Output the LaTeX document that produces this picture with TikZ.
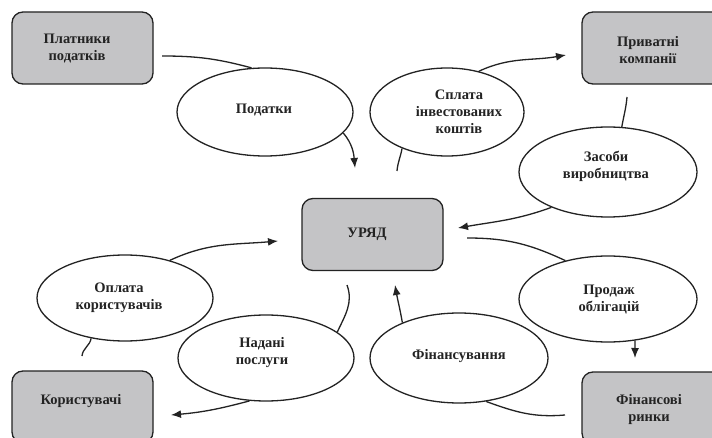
\documentclass[tikz,border=0pt]{standalone}
\usepackage{fontspec}
\setmainfont{Liberation Serif}
\usetikzlibrary{shapes.geometric,arrows.meta}
\definecolor{boxfill}{RGB}{196,196,198}
\definecolor{ink}{RGB}{35,35,35}
\begin{document}
\begin{tikzpicture}[x=1pt,y=-1pt,
  box/.style={draw=ink, line width=1.3pt, fill=boxfill, rounded corners=11pt,
    minimum width=141pt, minimum height=72pt, inner sep=0pt},
  oval/.style={draw=ink, line width=1.3pt, fill=white, ellipse, inner sep=0pt},
  lbl/.style={text=ink, font=\fontsize{14.5}{17}\selectfont\bfseries, align=center, inner sep=0pt},
  conn/.style={draw=ink, line width=1.3pt},
  arr/.style={conn, -{Latex[length=10pt,width=8pt]}}]
\useasboundingbox (0,0) rectangle (712,438);
\clip (0,0) rectangle (712,438);
\fill[white] (0,0) rectangle (712,438);

% boxes
\node[box] (plat) at (82.5,48) {};
\node[box] (priv) at (652.5,48) {};
\node[box] (ur) at (372.5,234.5) {};
\node[box] (kor) at (82.5,407) {};
\node[box] (fin) at (652.5,408) {};

% ellipses
\node[oval, minimum width=176pt, minimum height=88pt] (pod) at (265,112) {};
\node[oval, minimum width=154pt, minimum height=88pt] (spl) at (447,112) {};
\node[oval, minimum width=178pt, minimum height=90pt] (zas) at (608,172) {};
\node[oval, minimum width=176pt, minimum height=86pt] (opl) at (125,298) {};
\node[oval, minimum width=176pt, minimum height=86pt] (nad) at (266,358) {};
\node[oval, minimum width=178pt, minimum height=86pt] (prod) at (608,299) {};
\node[oval, minimum width=178pt, minimum height=90pt] (finan) at (459,358) {};

% labels
\node[lbl] (platT) at (77,48.5) {Платники\\податків};
\node[lbl] (privT) at (648,50) {Приватні\\компанії};
\node[lbl] (urT) at (367,234) {УРЯД};
\node[lbl] (korT) at (81,401) {Користувачі};
\node[lbl] (finT) at (649,410) {Фінансові\\ринки};
\node[lbl] (podT) at (264,110) {Податки};
\node[lbl] (splT) at (459,112) {Сплата\\інвестованих\\коштів};
\node[lbl] (zasT) at (606,166) {Засоби\\виробництва};
\node[lbl] (oplT) at (119,298) {Оплата\\користувачів};
\node[lbl] (nadT) at (262,353) {Надані\\послуги};
\node[lbl] (prodT) at (609,300) {Продаж\\облігацій};
\node[lbl] (finanT) at (459,356) {Фінансування};

% free ends
\coordinate (pA) at (162,56);
\coordinate (pB) at (355,168);
\coordinate (sA) at (397,171);
\coordinate (sB) at (566,55);
\coordinate (zA) at (627,97);
\coordinate (zB) at (458,228);
\coordinate (prA) at (467,238);
\coordinate (prB) at (635,358);
\coordinate (fA) at (565,415);
\coordinate (fB) at (395,285);
\coordinate (nA) at (347,285);
\coordinate (nB) at (171,415);
\coordinate (oA) at (82,356);
\coordinate (oB) at (278,241);

% connectors
\draw[conn] (pA) to[out=0,in=165] (pod.107);
\draw[arr] (pod.-15) to[out=-50,in=95] (pB);
\draw[conn] (sA) to[out=85,in=-100] (spl.-141);
\draw[arr] (spl.52) to[out=25,in=190] (sB);
\draw[conn] (zA) to[out=-95,in=80] (zas.73);
\draw[arr] (zas.-148) to[out=200,in=10] (zB);
\draw[conn] (prA) to[out=0,in=155] (prod.138);
\draw[arr] (prod.-57) -- (prB);
\draw[conn] (fA) to[out=185,in=-20] (finan.-58);
\draw[arr] (finan.148) to[out=100,in=-80] (fB);
\draw[conn] (nA) to[out=-70,in=65] (nad.20);
\draw[arr] (nad.-111) to[out=195,in=5] (nB);
\draw[conn] (oA) to[out=85,in=-100] (opl.-130);
\draw[arr] (opl.40) to[out=25,in=185] (oB);
\end{tikzpicture}
\end{document}
